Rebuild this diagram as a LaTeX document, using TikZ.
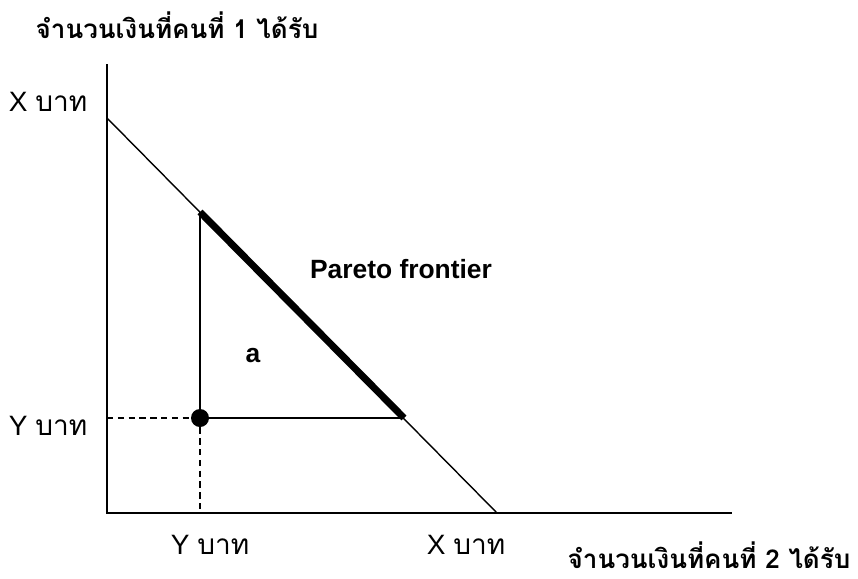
\documentclass[tikz,border=0pt]{standalone}
\usepackage{fontspec}
\setmainfont{Liberation Sans}
\newfontfamily\thaifont[Script=Thai]{Loma}
\usetikzlibrary{positioning, calc}

\begin{document}
\begin{tikzpicture}[x=0.5pt, y=-0.5pt]
            \tikzstyle{axis} = [line width=1.1pt]
            \tikzstyle{budget} = [line width=0.7pt]
            \tikzstyle{frontier} = [line width=3.5pt]
            \tikzstyle{guide} = [line width=0.6pt, dash pattern=on 3.2pt off 2.2pt]
            \tikzstyle{title} = [inner sep=0pt, anchor=base, font=\fontsize{13}{15}\selectfont\bfseries\thaifont]
            \tikzstyle{amount} = [inner sep=0pt, anchor=base, font=\fontsize{14}{16}\selectfont]
            \tikzstyle{tag} = [inner sep=0pt, anchor=base, font=\fontsize{13.2}{15}\selectfont\bfseries]

            \useasboundingbox (0,0) rectangle (858,579);

            \coordinate (origin) at (107,513);
            \coordinate (ytop) at (107,64);
            \coordinate (xend) at (732,513);
            \coordinate (xmax) at (107,118);
            \coordinate (ymax) at (497,513);
            \coordinate (top) at (200,212);
            \coordinate (right) at (404,418);
            \coordinate (yleft) at (107,418);
            \coordinate (ybot) at (200,513);
            \node (point) [circle, fill, inner sep=0pt, minimum size=9pt] at (200,418) {};

            \node (title1) [title] at (177,38) {จำนวนเงินที่คนที่ 1 ได้รับ};
            \node (title2) [title] at (709,568) {จำนวนเงินที่คนที่ 2 ได้รับ};
            \node (xleft) [amount] at (48,111) {X {\thaifont บาท}};
            \node (yleftlabel) [amount] at (48,435) {Y {\thaifont บาท}};
            \node (ybotlabel) [amount] at (210,554) {Y {\thaifont บาท}};
            \node (xbotlabel) [amount] at (466,554) {X {\thaifont บาท}};
            \node (pareto) [tag] at (401,278) {Pareto frontier};
            \node (a) [tag] at (253,362) {a};

            \draw [axis] (ytop) -- (origin) -- (xend);
            \draw [budget] (xmax) -- (ymax);
            \draw [frontier] (top) -- (right);
            \draw [budget] (top) -- (point.center) -- (right);
            \draw [guide] (yleft) -- (point);
            \draw [guide] (point) -- (ybot);
        \end{tikzpicture}
\end{document}
